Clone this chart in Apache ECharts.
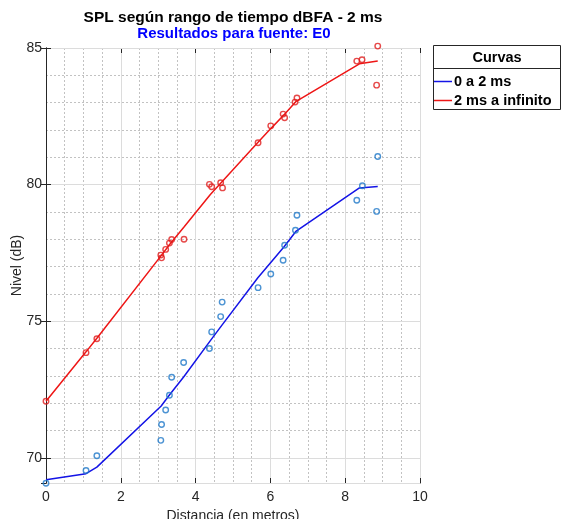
<!DOCTYPE html>
<html>
<head>
<meta charset="utf-8">
<script src="https://cdn.jsdelivr.net/npm/echarts@6/dist/echarts.min.js"></script>
<style>
  html, body { margin: 0; padding: 0; background: #fff; }
  #main { width: 562px; height: 519px; }
</style>
</head>
<body>
<div id="main"></div>
<script>
// puntos medidos (distancia en metros, nivel en dB)
var ptsX0 = [0, 1.07, 1.36, 3.07, 3.09, 3.20, 3.30, 3.36, 3.68, 4.37, 4.43, 4.67, 4.71, 5.67, 6.01, 6.34, 6.38, 6.67, 6.71, 8.31, 8.46, 8.84, 8.87]
var ptsY0 = [69.07, 69.54, 70.08, 70.64, 71.22, 71.75, 72.29, 72.95, 73.49, 74.0, 74.61, 75.17, 75.70, 76.23, 76.73, 77.23, 77.78, 78.33, 78.88, 79.43, 79.96, 79.02, 81.03]
var ptsX2 = [0, 1.07, 1.36, 3.07, 3.09, 3.20, 3.30, 3.36, 3.69, 4.37, 4.43, 4.67, 4.72, 5.67, 6.01, 6.34, 6.38, 6.66, 6.71, 8.31, 8.45, 8.84, 8.87]
var ptsY2 = [72.07, 73.85, 74.36, 77.42, 77.32, 77.63, 77.86, 77.99, 78.0, 80.01, 79.92, 80.07, 79.88, 81.53, 82.15, 82.58, 82.45, 83.02, 83.17, 84.52, 84.57, 83.64, 85.07]

// curvas ajustadas
var curvaX = [0, 1.07, 1.36, 3.08, 3.30, 3.69, 4.40, 4.70, 5.67, 6.01, 6.36, 6.69, 8.38, 8.87]
var curva0 = [69.2, 69.42, 69.66, 71.9, 72.3, 72.98, 74.3, 74.85, 76.6, 77.15, 77.72, 78.3, 79.88, 79.93]
var curva2 = [72.07, 73.88, 74.38, 77.4, 77.8, 78.45, 79.65, 80.1, 81.55, 82.05, 82.55, 83.05, 84.42, 84.52]

var nombres = ['0 a 2 ms', '2 ms a infinito']
var xTicks = [0, 10, 2]
var yRango = [69.08, 85]

var FONT = '"Liberation Sans", Helvetica, Arial, sans-serif'
var EJE = '#262626'

function zip (xs, ys) {
  return xs.map(function (x, i) { return [x, ys[i]] })
}

var chart = echarts.init(document.getElementById('main'))

var ejeX = {
  type: 'value',
  min: xTicks[0],
  max: xTicks[1],
  interval: xTicks[2],
  axisLine: { show: true, lineStyle: { color: EJE, width: 1 } },
  axisTick: { show: true, inside: true, length: 5, lineStyle: { color: EJE } }
}

var option = {
  animation: false,
  textStyle: { fontFamily: FONT },
  grid: { left: 46, right: 142, top: 48, bottom: 36, containLabel: false, outerBoundsMode: 'none' },
  graphic: [
    { type: 'text', x: 233, y: 18, style: { text: 'SPL según rango de tiempo dBFA - 2 ms', font: 'bold 15.5px ' + FONT, fill: '#000', textAlign: 'center', textVerticalAlign: 'middle' } },
    { type: 'text', x: 234, y: 34, style: { text: 'Resultados para fuente: E0', font: 'bold 15px ' + FONT, fill: '#0000ff', textAlign: 'center', textVerticalAlign: 'middle' } },
    // caja de la leyenda
    { type: 'rect', shape: { x: 433.5, y: 45.5, width: 127, height: 64 }, style: { fill: '#fff', stroke: EJE, lineWidth: 1 } },
    { type: 'line', shape: { x1: 433.5, y1: 68.5, x2: 560.5, y2: 68.5 }, style: { stroke: EJE, lineWidth: 1 } },
    { type: 'text', x: 497, y: 58, style: { text: 'Curvas', font: 'bold 14.5px ' + FONT, fill: '#000', textAlign: 'center', textVerticalAlign: 'middle' } }
  ],
  legend: {
    data: nombres.map(function (n) { return { name: n, icon: 'rect' } }),
    orient: 'vertical',
    left: 434,
    top: 74,
    padding: 0,
    itemGap: 4,
    itemWidth: 18,
    itemHeight: 1.5,
    textStyle: { fontSize: 14.5, fontWeight: 'bold', color: '#000', fontFamily: FONT, padding: [0, 0, 0, -3], lineHeight: 14 }
  },
  xAxis: [
    Object.assign({}, ejeX, {
      position: 'bottom',
      name: 'Distancia (en metros)',
      nameLocation: 'middle',
      nameGap: 24,
      nameTextStyle: { fontSize: 14, color: EJE },
      axisLabel: { fontSize: 14, color: EJE, margin: 7 },
      splitLine: { show: true, lineStyle: { color: '#dcdcdc', width: 1 } },
      minorTick: { show: false, splitNumber: 4 },
      minorSplitLine: { show: true, lineStyle: { color: '#c2c2c2', width: 1, type: [2, 2] } }
    }),
    Object.assign({}, ejeX, {
      position: 'top',
      axisLabel: { show: false },
      splitLine: { show: false }
    })
  ],
  yAxis: [
    {
      type: 'value',
      position: 'left',
      min: yRango[0],
      max: yRango[1],
      splitNumber: 3,
      minInterval: 5,
      maxInterval: 5,
      z: 2,
      name: 'Nivel (dB)',
      nameLocation: 'middle',
      nameGap: 22,
      nameMoveOverlap: false,
      nameTextStyle: { fontSize: 14, color: EJE },
      axisLine: { show: true, lineStyle: { color: EJE, width: 1 } },
      axisTick: { show: true, inside: true, length: 5, lineStyle: { color: EJE } },
      axisLabel: { fontSize: 14, color: EJE, margin: 4, showMinLabel: false },
      splitLine: { show: true, lineStyle: { color: '#dcdcdc', width: 1 } }
    },
    {
      type: 'value',
      position: 'right',
      min: yRango[0],
      max: yRango[1],
      splitNumber: 3,
      minInterval: 5,
      maxInterval: 5,
      z: 2,
      axisLine: { show: true, lineStyle: { color: EJE, width: 1 } },
      axisTick: { show: true, inside: true, length: 5, lineStyle: { color: EJE } },
      axisLabel: { show: false },
      splitLine: { show: false }
    },
    {
      // solo para la rejilla secundaria (cada 1 dB)
      type: 'value',
      position: 'left',
      min: yRango[0],
      max: yRango[1],
      minInterval: 1,
      maxInterval: 1,
      splitNumber: 16,
      z: 0,
      axisLine: { show: false },
      axisTick: { show: false },
      axisLabel: { show: false },
      splitLine: { show: true, lineStyle: { color: '#c2c2c2', width: 1, type: [2, 2] } }
    }
  ],
  series: [
    {
      name: nombres[0],
      type: 'line',
      data: zip(curvaX, curva0),
      symbol: 'none',
      showSymbol: false,
      lineStyle: { color: '#1414e6', width: 1.5 },
      itemStyle: { color: '#1414e6' },
      z: 3
    },
    {
      name: nombres[1],
      type: 'line',
      data: zip(curvaX, curva2),
      symbol: 'none',
      showSymbol: false,
      lineStyle: { color: '#ee1616', width: 1.5 },
      itemStyle: { color: '#ee1616' },
      z: 3
    },
    {
      name: 'med0',
      type: 'scatter',
      data: zip(ptsX0, ptsY0),
      symbol: 'circle',
      symbolSize: 5.5,
      clip: false,
      itemStyle: { color: 'transparent', borderColor: '#1f78c8', borderWidth: 1.4 },
      z: 4
    },
    {
      name: 'med2',
      type: 'scatter',
      data: zip(ptsX2, ptsY2),
      symbol: 'circle',
      symbolSize: 5.5,
      clip: false,
      itemStyle: { color: 'transparent', borderColor: '#e01c1c', borderWidth: 1.4 },
      z: 4
    }
  ]
}

chart.setOption(option)
</script>
</body>
</html>
